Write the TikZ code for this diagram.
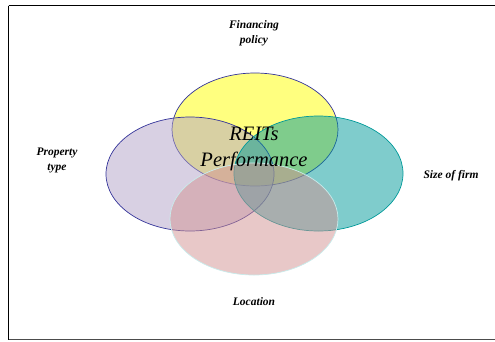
\documentclass[tikz,border=0pt]{standalone}
\usepackage{fontspec}
\setmainfont{Liberation Serif}
\definecolor{cyel}{RGB}{255,255,0}
\definecolor{cpur}{RGB}{178,162,200}
\definecolor{cteal}{RGB}{0,153,153}
\definecolor{cpink}{RGB}{210,146,146}
\definecolor{cnavy}{RGB}{51,51,153}
\definecolor{cpinkline}{RGB}{200,236,236}
\tikzset{
  venn/.style={line width=0.7pt, fill opacity=0.5, draw opacity=1},
  lbl/.style={font=\fontsize{11.5bp}{15bp}\selectfont\bfseries\itshape, align=center, inner sep=0pt, anchor=base},
  centre/.style={font=\fontsize{20.5bp}{26bp}\selectfont\itshape, align=center, inner sep=0pt, anchor=base}
}
\begin{document}
\begin{tikzpicture}[x=1bp,y=-1bp]
\useasboundingbox (0,0) rectangle (495,341);
\draw[line width=1.8bp] (8.5,5.5) -- (500,5.5) (8.5,5.5) -- (8.5,339.5);
\draw[line width=1.5bp, black!70] (8.5,339.5) -- (500,339.5);
\draw[venn, fill=cyel, draw=cnavy] (255,129.5) ellipse [x radius=83, y radius=56.5];
\draw[venn, fill=cpur, draw=cnavy] (190,174) ellipse [x radius=84, y radius=57];
\draw[venn, fill=cteal, draw=cteal] (318.5,173.5) ellipse [x radius=84.5, y radius=57.5];
\draw[venn, fill=cpink, draw=cpinkline] (254,219) ellipse [x radius=84, y radius=56];
\node[centre] (perf) at (254,166) {REITs\\Performance};
\node[lbl] (fin) at (254,43) {Financing\\policy};
\node[lbl] (prop) at (57,170) {Property\\type};
\node[lbl] (size) at (451,178) {Size of firm};
\node[lbl] (loc) at (254,305) {Location};
\end{tikzpicture}
\end{document}
